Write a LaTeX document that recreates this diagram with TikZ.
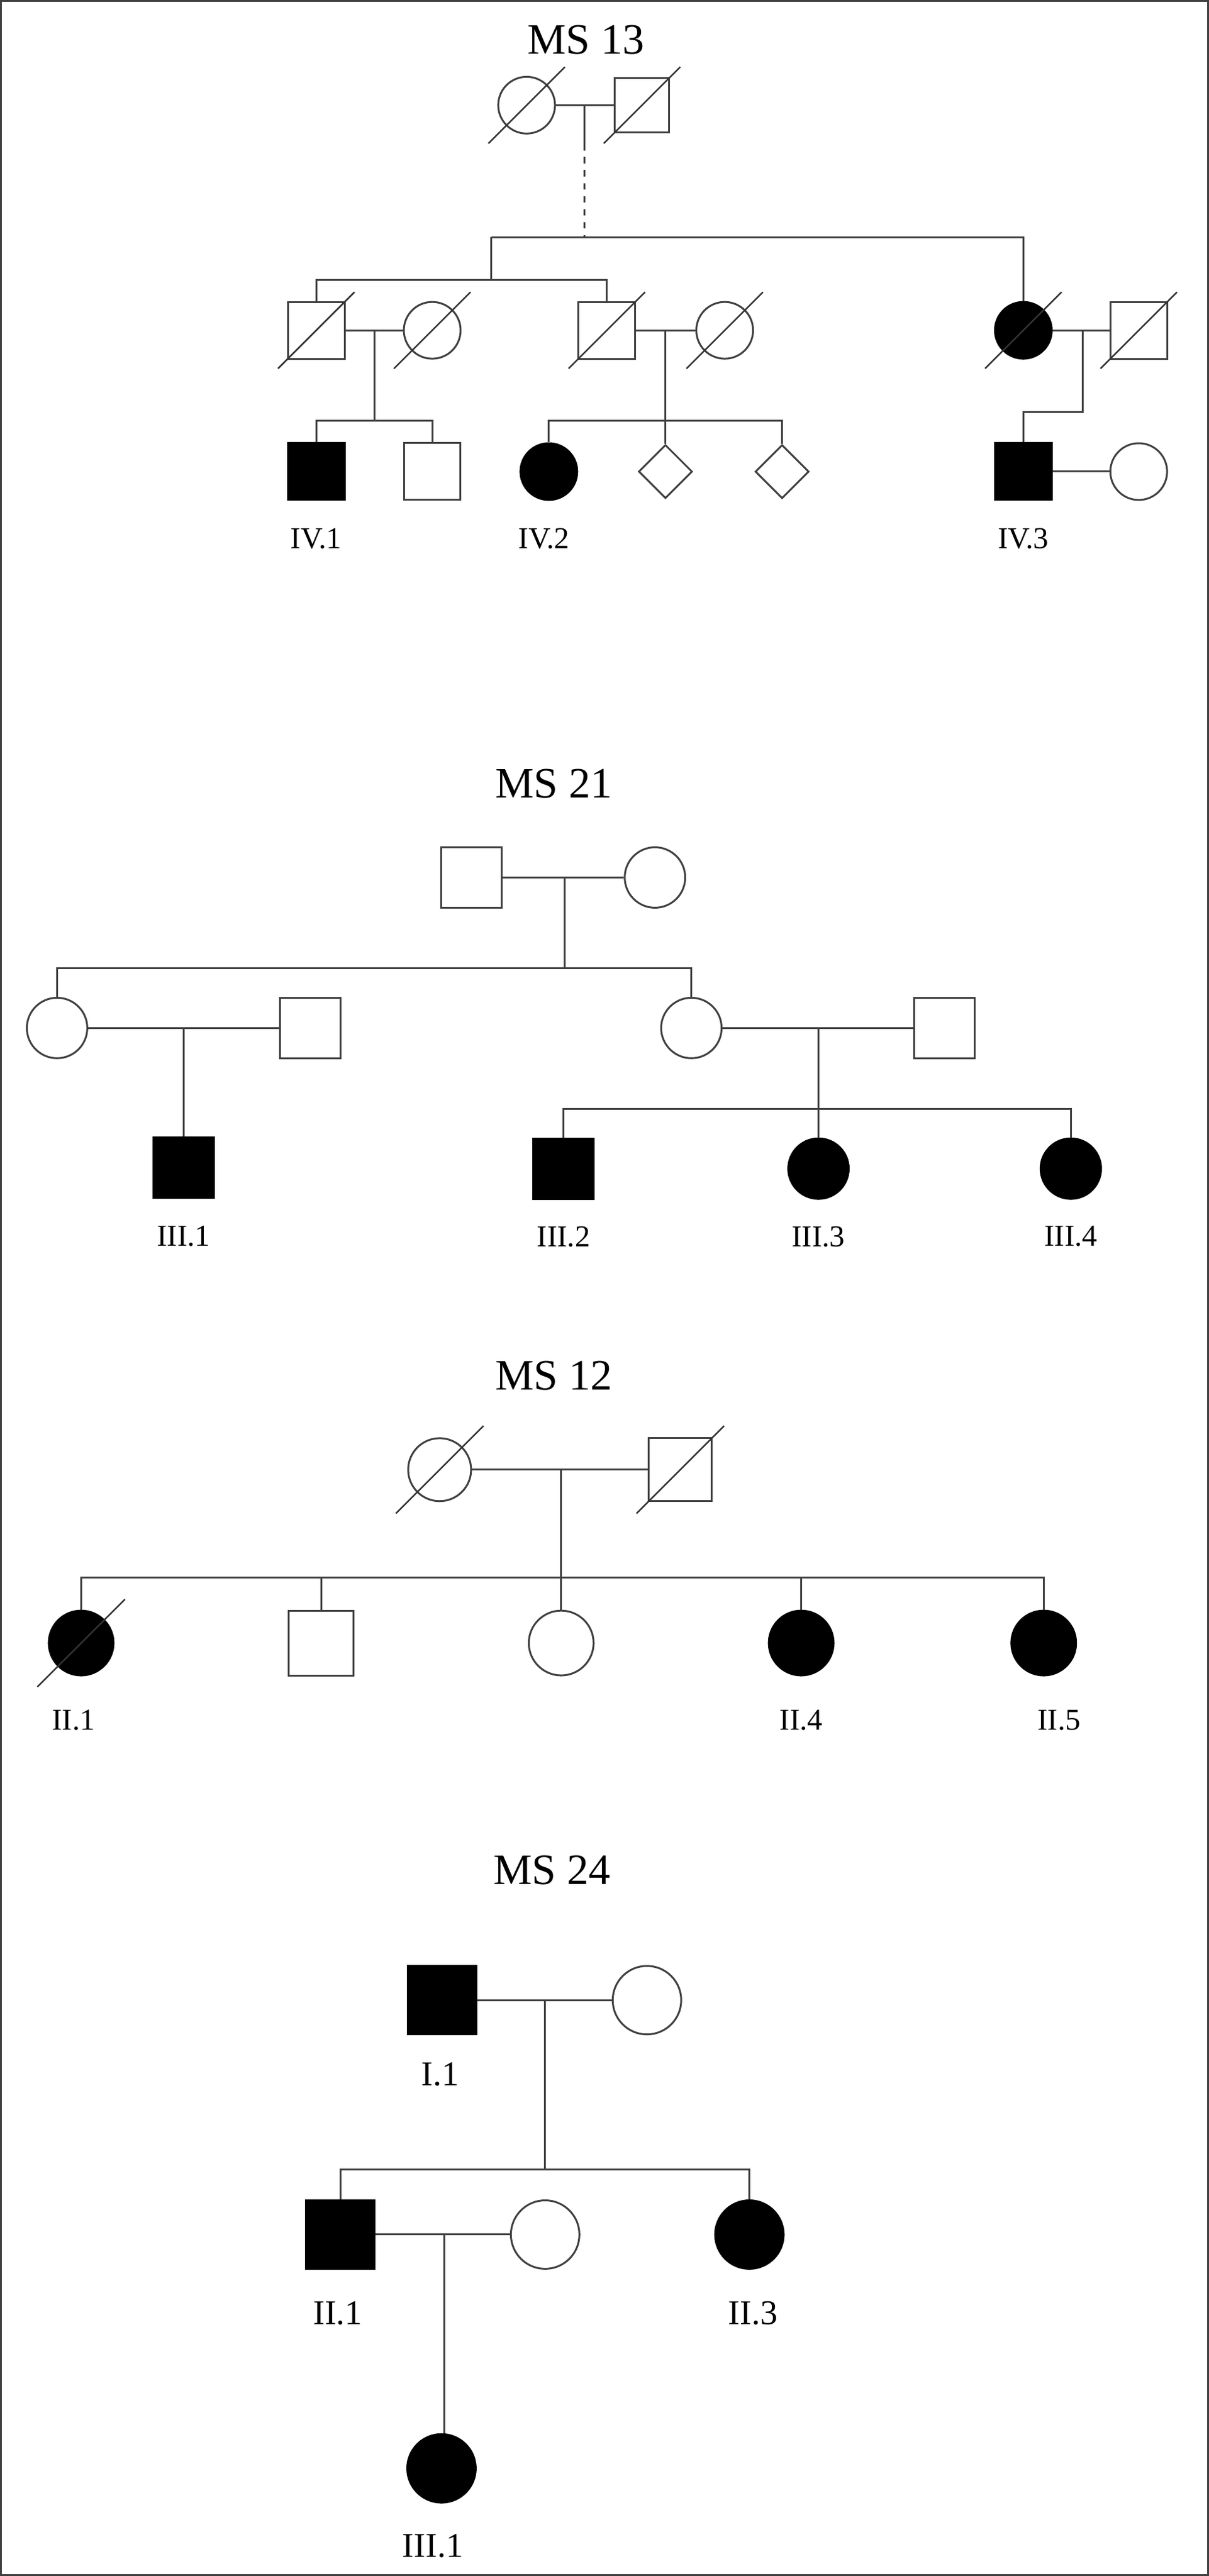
\documentclass[tikz,border=0pt]{standalone}
\usepackage{fontspec}
\setmainfont{Liberation Serif}
\usetikzlibrary{shapes.geometric}
\begin{document}
\begin{tikzpicture}[x=0.1mm,y=-0.1mm,
  every path/.style={line width=0.3mm,draw=black!75},
  sq/.style={draw=black!75,line width=0.3mm,rectangle,minimum size=#1,inner sep=0pt,fill=white},
  ci/.style={draw=black!75,line width=0.3mm,circle,minimum size=#1,inner sep=0pt,fill=white},
  di/.style={draw=black!75,line width=0.3mm,diamond,minimum width=#1,minimum height=#1,inner sep=0pt,fill=white},
  aff/.style={fill=black,draw=black},
  ttl/.style={font=\fontsize{20}{24}\selectfont},
  lbl/.style={font=\fontsize{14}{17}\selectfont},
  lblb/.style={font=\fontsize{16}{19}\selectfont},
  dec/.style={line width=0.25mm,draw=black!80}]
\useasboundingbox (0,0) rectangle (1956,4173);

% ================= MS 13 =================
\node[ttl] (t13) at (948,63) {MS 13};
\node[ci=9.2mm] (a1) at (852,169) {};
\node[sq=8.8mm] (a2) at (1039,169) {};
\coordinate (am) at (946,169);
\coordinate (ad) at (946,383);
\draw (a1) -- (a2);
\draw (am) -- (946,232);
\draw[dashed] (946,232) -- (ad);
\node[sq=9.2mm] (b1) at (511,534) {};
\node[ci=9.2mm] (b2) at (699,534) {};
\node[sq=9.2mm] (b3) at (982,534) {};
\node[ci=9.2mm] (b4) at (1173,534) {};
\node[ci=9.2mm,aff] (b5) at (1657,534) {};
\node[sq=9.2mm] (b6) at (1844,534) {};
\coordinate (bl) at (795,383);
\coordinate (bs) at (795,452);
\draw (bl) -- (1657,383) -- (b5.north);
\draw (bl) -- (bs);
\draw (b1.north) |- (bs) -| (b3.north);
\draw (b1) -- (b2); \draw (b3) -- (b4); \draw (b5) -- (b6);
\foreach \n in {a1,a2,b1,b2,b3,b4,b5,b6}
  \draw[dec] ([shift={(-62,62)}]\n.center) -- ([shift={(62,-62)}]\n.center);
\node[sq=9.2mm,aff] (c1) at (511,763) {};
\node[sq=9.2mm] (c2) at (699,763) {};
\node[ci=9.2mm,aff] (c3) at (888,763) {};
\node[di=8.7mm] (c4) at (1077,763) {};
\node[di=8.7mm] (c5) at (1266,763) {};
\node[sq=9.2mm,aff] (c6) at (1657,763) {};
\node[ci=9.2mm] (c7) at (1844,763) {};
\coordinate (m1) at (605,534); \coordinate (k1) at (605,680);
\coordinate (m2) at (1077,534); \coordinate (k2) at (1077,680);
\coordinate (m3) at (1753,534); \coordinate (k3) at (1753,666);
\draw (m1) -- (k1); \draw (c1.north) |- (k1) -| (c2.north);
\draw (m2) -- (c4.north); \draw (c3.north) |- (k2) -| (c5.north);
\draw (m3) -- (k3) -| (c6.north);
\draw (c6) -- (c7);
\node[lbl] (l1) at (511,872) {IV.1};
\node[lbl] (l2) at (880,872) {IV.2};
\node[lbl] (l3) at (1657,872) {IV.3};

% ================= MS 21 =================
\node[ttl] (t21) at (896,1269) {MS 21};
\node[sq=9.8mm] (d1) at (763,1421) {};
\node[ci=9.8mm] (d2) at (1060,1421) {};
\draw (d1) -- (d2);
\coordinate (dm) at (914,1421); \coordinate (dk) at (914,1568);
\node[ci=9.8mm] (e1) at (91,1665) {};
\node[sq=9.8mm] (e2) at (501,1665) {};
\node[ci=9.8mm] (e3) at (1119,1665) {};
\node[sq=9.8mm] (e4) at (1529,1665) {};
\draw (dm) -- (dk);
\draw (e1.north) |- (dk) -| (e3.north);
\draw (e1) -- (e2); \draw (e3) -- (e4);
\node[sq=9.8mm,aff] (f1) at (296,1891) {};
\node[sq=9.8mm,aff] (f2) at (912,1893) {};
\node[ci=9.8mm,aff] (f3) at (1325,1893) {};
\node[ci=9.8mm,aff] (f4) at (1734,1893) {};
\coordinate (em1) at (296,1665);
\coordinate (em2) at (1325,1665); \coordinate (ek2) at (1325,1796);
\draw (em1) -- (f1.north);
\draw (em2) -- (f3.north);
\draw (f2.north) |- (ek2) -| (f4.north);
\node[lbl] (l4) at (296,2003) {III.1};
\node[lbl] (l5) at (912,2003) {III.2};
\node[lbl] (l6) at (1325,2003) {III.3};
\node[lbl] (l7) at (1734,2003) {III.4};

% ================= MS 12 =================
\node[ttl] (t12) at (896,2229) {MS 12};
\node[ci=10.2mm] (g1) at (711,2381) {};
\node[sq=10.2mm] (g2) at (1101,2381) {};
\draw (g1) -- (g2);
\coordinate (gm) at (908,2381); \coordinate (gk) at (908,2556);
\node[ci=10.5mm,aff] (h1) at (130,2662) {};
\node[sq=10.5mm] (h2) at (519,2662) {};
\node[ci=10.5mm] (h3) at (908,2662) {};
\node[ci=10.5mm,aff] (h4) at (1297,2662) {};
\node[ci=10.5mm,aff] (h5) at (1690,2662) {};
\draw (gm) -- (h3.north);
\draw (h1.north) |- (gk) -| (h5.north);
\draw (h2.north) -- (519,2556);
\draw (h4.north) -- (1297,2556);
\foreach \n in {g1,g2,h1}
  \draw[dec] ([shift={(-71,71)}]\n.center) -- ([shift={(71,-71)}]\n.center);
\node[lbl] (l8) at (118,2787) {II.1};
\node[lbl] (l9) at (1297,2787) {II.4};
\node[lbl] (l10) at (1715,2787) {II.5};

% ================= MS 24 =================
\node[ttl] (t24) at (893,3030) {MS 24};
\node[sq=11.1mm,aff] (p1) at (715,3241) {};
\node[ci=11.1mm] (p2) at (1047,3241) {};
\draw (p1) -- (p2);
\coordinate (pm) at (882,3241); \coordinate (pk) at (882,3515);
\node[sq=11.1mm,aff] (q1) at (550,3621) {};
\node[ci=11.1mm] (q2) at (882,3621) {};
\node[ci=11.1mm,aff] (q3) at (1213,3621) {};
\draw (pm) -- (pk);
\draw (q1.north) |- (pk) -| (q3.north);
\draw (q1) -- (q2);
\coordinate (qm) at (719,3621);
\node[ci=11.1mm,aff] (r1) at (714,4000) {};
\draw (qm) -- (qm |- r1.north);
\node[lblb] (l11) at (712,3361) {I.1};
\node[lblb] (l12) at (546,3748) {II.1};
\node[lblb] (l13) at (1219,3748) {II.3};
\node[lblb] (l14) at (700,4126) {III.1};
\end{tikzpicture}
\end{document}
